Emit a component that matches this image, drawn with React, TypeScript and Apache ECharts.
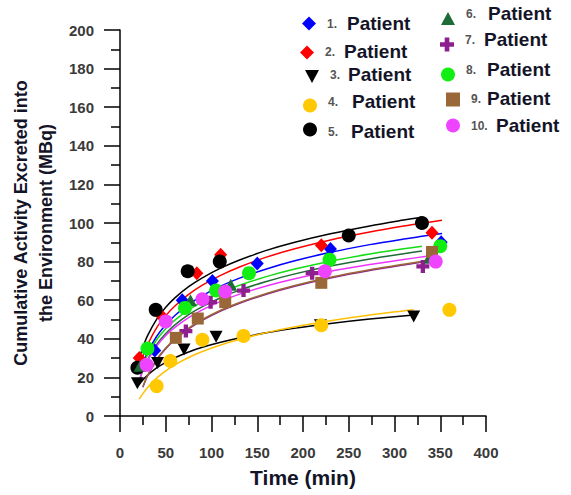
import React, { useEffect, useRef } from 'react';
import * as echarts from 'echarts';

// ---- data (time in min, cumulative activity in MBq) ----
const patientNames = [
  '1. Patient', '2. Patient', '3. Patient', '4. Patient', '5. Patient',
  '6. Patient', '7. Patient', '8. Patient', '9. Patient', '10. Patient',
];

const patient1 = [[38, 34], [68, 60], [101, 70], [150, 79], [230, 86.5], [351, 90]];
const patient2 = [[21, 30], [46, 51.5], [84, 74], [110, 83.5], [220, 88.5], [341, 95]];
const patient3 = [[19, 17], [41, 27.5], [70, 34.5], [105, 41], [219, 47], [321, 51.5]];
const patient4 = [[40, 15.5], [55, 28.5], [90, 39.5], [135, 41.5], [220, 47], [360, 55]];
const patient5 = [[19, 25], [39, 55], [74, 75], [109, 80], [250, 93.5], [330, 100]];
const patient6 = [[22, 26], [77, 60], [121, 68], [338, 82]];
const patient7 = [[72, 44], [99, 59], [135, 65], [210, 74], [331, 77.5]];
const patient8 = [[30, 35], [71, 56], [105, 65], [141, 74], [229, 81], [350, 88]];
const patient9 = [[61, 40.5], [85, 50.5], [115, 59], [220, 69], [341, 85]];
const patient10 = [[29, 26.5], [50, 49], [90, 60.5], [115, 64.5], [224, 75], [345, 80]];

// fitted curves
const fit1 = [[22, 22.6], [25, 27], [30, 32.7], [40, 41.2], [50, 47.3], [60, 52.1], [75, 57.8], [90, 62.4], [110, 67.3], [130, 71.3], [160, 76.2], [190, 80.3], [230, 84.8], [273, 88.8], [310, 91.7], [330, 93.1], [352, 94.6]];
const fit2 = [[22, 26.2], [25, 30.8], [30, 36.8], [40, 45.7], [50, 52], [60, 57], [75, 63], [90, 67.8], [110, 72.9], [130, 77.1], [160, 82.3], [190, 86.5], [230, 91.2], [273, 95.3], [310, 98.4], [330, 99.9], [352, 101.4]];
const fit3 = [[20, 15.8], [25, 18.7], [30, 21.1], [40, 24.9], [50, 27.8], [60, 30.2], [75, 33.2], [90, 35.6], [110, 38.2], [130, 40.4], [160, 43.1], [190, 45.4], [230, 47.9], [273, 50.2], [321, 52.3]];
const fit4 = [[21, 8.7], [25, 11.6], [30, 14.7], [40, 19.6], [50, 23.4], [60, 26.5], [75, 30.3], [90, 33.4], [110, 36.8], [130, 39.6], [160, 43.2], [190, 46.1], [230, 49.3], [273, 52.3], [321, 55]];
const fit5 = [[22, 31.1], [25, 35.6], [30, 41.5], [40, 50.1], [50, 56.3], [60, 61.2], [75, 67], [90, 71.6], [110, 76.6], [130, 80.7], [160, 85.8], [190, 89.9], [230, 94.4], [273, 98.5], [310, 101.5], [330, 103]];
const fit6 = [[22, 19.6], [25, 23.7], [30, 29.1], [40, 37], [50, 42.7], [60, 47.2], [75, 52.5], [90, 56.7], [110, 61.3], [130, 65.1], [160, 69.7], [190, 73.5], [230, 77.7], [273, 81.4], [310, 84.1], [330, 85.5]];
const fit7 = [[25, 14.9], [30, 20.6], [40, 28.9], [50, 34.8], [60, 39.5], [75, 45.1], [90, 49.6], [110, 54.4], [130, 58.3], [160, 63.1], [190, 67.1], [230, 71.5], [273, 75.4], [310, 78.2], [346, 81]];
const fit8 = [[22, 22.1], [25, 26.2], [30, 31.6], [40, 39.5], [50, 45.2], [60, 49.7], [75, 55], [90, 59.2], [110, 63.8], [130, 67.6], [160, 72.2], [190, 76], [230, 80.2], [273, 83.9], [310, 86.6], [330, 88]];
const fit9 = [[25, 15.3], [30, 21], [40, 29.3], [50, 35.2], [60, 39.9], [75, 45.5], [90, 50], [110, 54.8], [130, 58.7], [160, 63.5], [190, 67.5], [230, 71.9], [273, 75.8], [310, 78.6], [346, 81.4]];
const fit10 = [[22, 19.7], [25, 23.6], [30, 28.7], [40, 36.2], [50, 41.7], [60, 45.9], [75, 51], [90, 55], [110, 59.4], [130, 63], [160, 67.4], [190, 71], [230, 75], [273, 78.5], [310, 81.1], [339, 83]];

const xTicks = { min: 0, max: 400, interval: 50 };
const yTicks = { min: 0, max: 200, interval: 20 };

const patients = [patient1, patient2, patient3, patient4, patient5, patient6, patient7, patient8, patient9, patient10];
const fits = [fit1, fit2, fit3, fit4, fit5, fit6, fit7, fit8, fit9, fit10];

// ---- styles ----
const CROSS = 'path://M4,0H8V4H12V8H8V12H4V8H0V4H4Z';
const TRI_DOWN = 'path://M0,0L12,0L6,11Z';
const TRI_UP = 'path://M6,0L12,11L0,11Z';

const markerStyles = [
  { color: '#0000ff', symbol: 'diamond', size: [13, 14], line: '#0000ff' },
  { color: '#ff0000', symbol: 'diamond', size: [13, 14], line: '#ff0000' },
  { color: '#000000', symbol: TRI_DOWN, size: [13, 12], line: '#000000' },
  { color: '#ffc800', symbol: 'circle', size: 14, line: '#ffc000' },
  { color: '#000000', symbol: 'circle', size: 14, line: '#000000' },
  { color: '#1d6b35', symbol: TRI_UP, size: [13, 12], line: '#1d6b35' },
  { color: '#8e1f8e', symbol: CROSS, size: 13, line: '#8e1f8e' },
  { color: '#11ee11', symbol: 'circle', size: 14, line: '#11dd11' },
  { color: '#9a6838', symbol: 'rect', size: 12, line: '#9a6838' },
  { color: '#ee44ff', symbol: 'circle', size: 14, line: '#ee33ff' },
];

// legend placement: marker centre x, marker centre y, text lift, "Patient" offset
const legendLayout = [
  { x: 309, cy: 24, lift: 0, pOff: 38 },
  { x: 307, cy: 53, lift: 1, pOff: 37 },
  { x: 312, cy: 77, lift: 2, pOff: 36 },
  { x: 310, cy: 106, lift: 4, pOff: 42 },
  { x: 310, cy: 130, lift: -2, pOff: 41 },
  { x: 448, cy: 19, lift: 5, pOff: 40 },
  { x: 447, cy: 45, lift: 5, pOff: 37 },
  { x: 448, cy: 75, lift: 5, pOff: 39 },
  { x: 453, cy: 100, lift: 1, pOff: 34 },
  { x: 453, cy: 126, lift: 0, pOff: 43 },
];

const FONT = 'Arial, "Liberation Sans", sans-serif';

export default function App() {
  const ref = useRef<HTMLDivElement>(null);

  useEffect(() => {
    if (!ref.current) return;
    const chart = echarts.init(ref.current, undefined, { renderer: 'svg' });

    const series: any[] = [];
    fits.forEach((f, i) => {
      series.push({
        name: 'fit ' + (i + 1),
        type: 'line',
        data: f,
        smooth: 0.3,
        showSymbol: false,
        symbol: 'none',
        lineStyle: { color: markerStyles[i].line, width: 1.5 },
        z: 2,
        silent: true,
      });
    });
    patients.forEach((p, i) => {
      const m = markerStyles[i];
      series.push({
        name: patientNames[i],
        type: 'scatter',
        data: p,
        symbol: m.symbol,
        symbolSize: m.size,
        itemStyle: { color: m.color, opacity: 1 },
        z: 3,
      });
    });

    const legends = patientNames.map((name, i) => {
      const L = legendLayout[i];
      const top = L.lift >= 0 ? 0 : -2 * L.lift;
      const bottom = L.lift >= 0 ? 2 * L.lift : 0;
      const h = 20 + 2 * Math.abs(L.lift);
      return {
        data: [name],
        left: L.x - 7,
        top: L.cy - h / 2,
        padding: 0,
        itemWidth: 14,
        itemHeight: 14,
        selectedMode: false,
        formatter: (n: string) => {
          const parts = n.split(' ');
          return `{n|${parts[0]}}{p|${parts[1]}}`;
        },
        textStyle: {
          fontFamily: FONT,
          rich: {
            n: {
              fontFamily: FONT,
              fontSize: 12,
              fontWeight: 'bold',
              color: '#555555',
              lineHeight: 20,
              width: L.pOff - 12 - 6,
              padding: [top, 0, bottom, 6],
            },
            p: {
              fontFamily: FONT,
              fontSize: 19,
              fontWeight: 'bold',
              color: '#141428',
              lineHeight: 20,
              padding: [top, 0, bottom, 0],
            },
          },
        },
      };
    });

    const axisCommon = {
      type: 'value' as const,
      splitLine: { show: false },
      axisLine: { show: true, onZero: false, lineStyle: { color: '#000', width: 1.5 } },
      axisTick: { show: true, inside: false, length: 16, lineStyle: { color: '#000', width: 1.5 } },
      minorTick: { show: true, splitNumber: 2, length: 9, lineStyle: { color: '#000', width: 1.5 } },
      minorSplitLine: { show: false },
    };

    chart.setOption({
      animation: false,
      backgroundColor: '#ffffff',
      textStyle: { fontFamily: FONT },
      grid: { left: 119, top: 30, width: 367, height: 386, containLabel: false },
      legend: legends,
      xAxis: {
        ...axisCommon,
        min: xTicks.min,
        max: xTicks.max,
        interval: xTicks.interval,
        name: 'Time (min)',
        nameLocation: 'middle',
        nameGap: 51,
        nameTextStyle: { fontFamily: FONT, fontSize: 21, fontWeight: 'bold', color: '#141428' },
        axisLabel: { margin: 29, fontFamily: FONT, fontSize: 15, fontWeight: 'bold', color: '#3a3a3a' },
      },
      yAxis: {
        ...axisCommon,
        min: yTicks.min,
        max: yTicks.max,
        interval: yTicks.interval,
        name: 'Cumulative Activity Excreted into\nthe Environment (MBq)',
        nameLocation: 'middle',
        nameGap: 62,
        nameTextStyle: { fontFamily: FONT, fontSize: 18, fontWeight: 'bold', color: '#141428', lineHeight: 25 },
        axisLabel: { margin: 26, fontFamily: FONT, fontSize: 15, fontWeight: 'bold', color: '#3a3a3a' },
      },
      series,
    });

    return () => chart.dispose();
  }, []);

  return (
    <div
      ref={ref}
      style={{ position: 'absolute', left: 0, top: 0, width: 571, height: 495, background: '#fff' }}
    />
  );
}
